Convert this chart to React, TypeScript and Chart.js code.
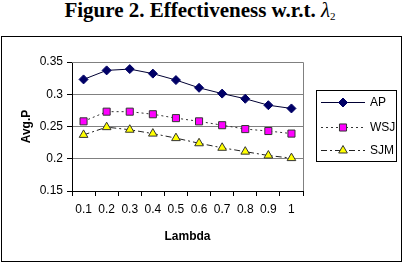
import React, { useEffect, useRef } from "react";
import { Chart, registerables } from "chart.js";

Chart.register(...registerables);

const categories = ["0.1", "0.2", "0.3", "0.4", "0.5", "0.6", "0.7", "0.8", "0.9", "1"];
const apValues = [0.323, 0.337, 0.339, 0.332, 0.322, 0.310, 0.301, 0.293, 0.283, 0.278];
const wsjValues = [0.258, 0.273, 0.273, 0.269, 0.263, 0.258, 0.252, 0.246, 0.243, 0.239];
const sjmValues = [0.237, 0.249, 0.245, 0.239, 0.232, 0.224, 0.217, 0.211, 0.205, 0.201];
const seriesNames = ["AP", "WSJ", "SJM"];
const yTicks = [0.15, 0.2, 0.25, 0.3, 0.35];

const FONT = "Arial, 'Liberation Sans', sans-serif";

const styles = [
  { line: "#000033", fill: "#000066", border: "#000066", dash: [] as number[], point: "rectRot", radius: 4.5 },
  { line: "#333333", fill: "#ff00ff", border: "#333333", dash: [2, 3], point: "rect", radius: 5 },
  { line: "#222222", fill: "#ffff00", border: "#333333", dash: [6, 3, 2, 3], point: "triangle", radius: 5 },
];

function drawMarker(ctx: CanvasRenderingContext2D, kind: string, x: number, y: number, r: number) {
  ctx.beginPath();
  if (kind === "rectRot") {
    ctx.moveTo(x, y - r);
    ctx.lineTo(x + r, y);
    ctx.lineTo(x, y + r);
    ctx.lineTo(x - r, y);
    ctx.closePath();
  } else if (kind === "rect") {
    const s = r * Math.SQRT1_2;
    ctx.rect(x - s, y - s, 2 * s, 2 * s);
  } else {
    const h = (r * 3) / Math.sqrt(3);
    ctx.moveTo(x, y - r);
    ctx.lineTo(x + h / 2, y + r / 2);
    ctx.lineTo(x - h / 2, y + r / 2);
    ctx.closePath();
  }
  ctx.fill();
  ctx.stroke();
}

const framePlugin = {
  id: "frame",
  beforeDatasetsDraw(chart: any) {
    const { ctx, chartArea } = chart;
    ctx.save();
    ctx.strokeStyle = "#808080";
    ctx.lineWidth = 1;
    ctx.beginPath();
    ctx.moveTo(chartArea.left, chartArea.top + 0.5);
    ctx.lineTo(chartArea.right + 0.5, chartArea.top + 0.5);
    ctx.lineTo(chartArea.right + 0.5, chartArea.bottom);
    ctx.stroke();
    ctx.restore();
  },
};

const legendPlugin = {
  id: "customLegend",
  afterDraw(chart: any) {
    const { ctx } = chart;
    const bx = 314, by = 53, bw = 80, bh = 71;
    ctx.save();
    ctx.strokeStyle = "#000";
    ctx.lineWidth = 1;
    ctx.strokeRect(bx + 0.5, by + 0.5, bw, bh);
    const rows = [65.3, 89.7, 113];
    seriesNames.forEach((name, i) => {
      const s = styles[i];
      const y = Math.round(rows[i]) + 0.5;
      ctx.strokeStyle = s.line;
      ctx.setLineDash(s.dash);
      ctx.beginPath();
      ctx.moveTo(319, y);
      ctx.lineTo(363, y);
      ctx.stroke();
      ctx.setLineDash([]);
      ctx.fillStyle = s.fill;
      ctx.strokeStyle = s.border;
      drawMarker(ctx, s.point, 341, y, s.radius);
      ctx.fillStyle = "#000";
      ctx.font = `12px ${FONT}`;
      ctx.textBaseline = "middle";
      ctx.textAlign = "left";
      ctx.fillText(name, 368, y + 0.5);
    });
    ctx.restore();
  },
};

export default function App() {
  const canvasRef = useRef<HTMLCanvasElement | null>(null);

  useEffect(() => {
    document.body.style.margin = "0";
    const canvas = canvasRef.current;
    if (!canvas) return;
    const values = [apValues, wsjValues, sjmValues];
    const chart = new Chart(canvas, {
      type: "line",
      data: {
        labels: categories,
        datasets: seriesNames.map((name, i) => ({
          label: name,
          data: values[i],
          borderColor: styles[i].line,
          borderWidth: 1,
          borderDash: styles[i].dash,
          backgroundColor: styles[i].fill,
          pointBackgroundColor: styles[i].fill,
          pointBorderColor: styles[i].border,
          pointBorderWidth: 1,
          pointStyle: styles[i].point as any,
          pointRadius: styles[i].radius,
          tension: 0,
          fill: false,
        })),
      },
      options: {
        animation: false,
        responsive: false,
        maintainAspectRatio: false,
        layout: { padding: { top: 25, right: 98, left: 0, bottom: 0 } },
        plugins: {
          legend: { display: false },
          tooltip: { enabled: false },
        },
        scales: {
          x: {
            type: "category",
            offset: true,
            afterFit: (scale: any) => {
              scale.height = 70;
            },
            grid: {
              offset: true,
              drawOnChartArea: false,
              drawTicks: true,
              tickLength: 5,
              color: "#000",
            },
            border: { color: "#000", width: 1 },
            ticks: {
              color: "#000",
              font: { family: FONT, size: 12 },
              padding: 6,
              maxRotation: 0,
              autoSkip: false,
            },
            title: {
              display: true,
              text: "Lambda",
              color: "#000",
              font: { family: FONT, size: 12, weight: "bold" },
              padding: { top: 0, bottom: 17 },
            },
          },
          y: {
            min: 0.15,
            max: 0.35,
            afterFit: (scale: any) => {
              scale.width = 70;
            },
            afterBuildTicks: (scale: any) => {
              scale.ticks = yTicks.map((v) => ({ value: v }));
            },
            grid: {
              color: "#808080",
              tickColor: "#000",
              tickLength: 5,
              drawTicks: true,
            },
            border: { color: "#000", width: 1 },
            ticks: {
              color: "#000",
              font: { family: FONT, size: 12 },
              padding: 4,
              callback: (v: any) => String(Number(v)),
            },
            title: {
              display: true,
              text: "Avg.P",
              color: "#000",
              font: { family: FONT, size: 12, weight: "bold" },
              padding: { top: 17, bottom: 0 },
            },
          },
        },
      },
      plugins: [framePlugin, legendPlugin],
    });
    return () => chart.destroy();
  }, []);

  return (
    <div style={{ position: "relative", width: 409, height: 264, background: "#fff" }}>
      <div
        style={{
          position: "absolute",
          left: 0,
          top: 0,
          width: 400,
          textAlign: "center",
          fontFamily: "'Liberation Serif', 'Times New Roman', serif",
          fontWeight: "bold",
          fontSize: 21,
          lineHeight: "20px",
          whiteSpace: "nowrap",
          color: "#000",
        }}
      >
        Figure 2. Effectiveness w.r.t.{"  "}
        <span style={{ fontStyle: "italic", fontWeight: "normal" }}>
          λ<sub style={{ fontSize: 11, fontStyle: "normal", verticalAlign: "-3px" }}>2</sub>
        </span>
      </div>
      <div
        style={{
          position: "absolute",
          left: 1,
          top: 36,
          width: 399,
          height: 224,
          border: "1px solid #000",
        }}
      >
        <canvas ref={canvasRef} width={399} height={224} style={{ display: "block", width: 399, height: 224 }} />
      </div>
    </div>
  );
}
